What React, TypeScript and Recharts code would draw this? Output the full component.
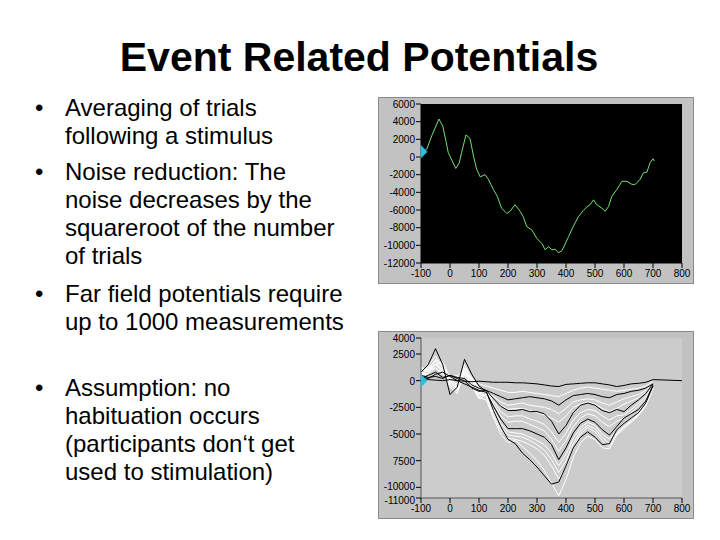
import { CartesianGrid, Line, LineChart, ReferenceDot, XAxis, YAxis } from 'recharts';

// top panel: single averaged trace (green)
const avgTimes = [-95, -80, -63, -38, -25, -14, -6, 20, 32, 40, 55, 69, 81, 92, 104, 121, 132, 150, 163, 178, 196, 207, 224, 242, 253, 265, 282, 299, 317, 328, 340, 351, 363, 374, 386, 397, 409, 426, 443, 460, 472, 483, 495, 506, 524, 535, 547, 558, 575, 593, 610, 627, 639, 656, 667, 679, 690, 700, 704];
const avgValues = [500, 900, 2400, 4300, 3500, 1800, 500, -1300, -650, 500, 2500, 2100, 100, -1400, -2250, -2000, -2500, -3700, -4450, -5800, -6400, -6150, -5400, -6150, -6800, -7900, -8250, -9200, -9800, -10500, -10150, -10500, -10450, -10850, -10600, -9850, -9000, -7800, -6750, -6050, -5650, -5400, -4850, -5400, -5800, -6150, -5600, -4450, -3700, -2750, -2750, -3100, -3100, -2500, -1800, -1700, -650, -200, -450];

const xTicks = [-100, 0, 100, 200, 300, 400, 500, 600, 700, 800];
const yTicksTop = [6000, 4000, 2000, 0, -2000, -4000, -6000, -8000, -10000, -12000];
const yTicksBottom = [4000, 2500, 0, -2500, -5000, -7500, -10000, -11000];

// bottom panel: running averages, sampled every 25 ms
const sweepTimes = [-100, -75, -50, -25, 0, 25, 50, 75, 100, 125, 150, 175, 200, 225, 250, 275, 300, 325, 350, 375, 400, 425, 450, 475, 500, 525, 550, 575, 600, 625, 650, 675, 700, 800];

const black1 = [300, 100, 50, 0, 100, 0, -50, -100, -50, -100, -150, -150, -150, -200, -200, -250, -300, -400, -500, -550, -350, -300, -250, -200, -200, -300, -400, -550, -450, -300, -250, -150, 100, 0];
const white1 = [800, 500, 1200, 700, 300, 500, 800, 200, -300, -500, -700, -900, -1100, -1100, -1000, -1100, -1200, -1300, -1400, -1500, -1200, -900, -700, -600, -700, -800, -900, -1000, -900, -800, -700, -500, -100];
const black2 = [500, 300, 400, 200, 500, 300, 200, -400, -700, -900, -1200, -1500, -1800, -1700, -1600, -1500, -1600, -1700, -1900, -2300, -1800, -1400, -1300, -1200, -1300, -1500, -1600, -1300, -1200, -1000, -900, -700, -300];
const white2 = [1000, 1200, 1800, 1000, 200, 300, 600, 0, -600, -1000, -1500, -2000, -2300, -2200, -2100, -2300, -2400, -2500, -2700, -3100, -2600, -2000, -1800, -1700, -1800, -2100, -2300, -2000, -1700, -1500, -1300, -900, -300];
const white3 = [700, 900, 2000, 1500, 0, -300, 1200, 300, -800, -1200, -1800, -2300, -2700, -2600, -2600, -2800, -3000, -3200, -3500, -3900, -3300, -2500, -2200, -2000, -2200, -2600, -2900, -2600, -2200, -1900, -1600, -1100, -400];
const black3 = [200, 500, 800, 300, 500, 200, 0, -700, -1000, -900, -1700, -2400, -2800, -2800, -2700, -2900, -2900, -3100, -3800, -5000, -4200, -3000, -2300, -2100, -2300, -2800, -3000, -2700, -2900, -2300, -1800, -1200, -300];
const white4 = [1200, 1000, 1500, 1800, 300, -500, 800, 0, -1200, -800, -1900, -2900, -3400, -3300, -3300, -3600, -3800, -4100, -4800, -5800, -4900, -3700, -3000, -2700, -2800, -3300, -3700, -3300, -3200, -2700, -2100, -1500, -500];
const white5 = [900, 1400, 2300, 1200, -200, -800, 1500, 200, -1300, -1000, -2200, -3300, -3900, -3800, -3800, -4100, -4400, -4700, -5500, -6600, -5600, -4300, -3500, -3100, -3300, -3900, -4300, -3800, -3500, -3000, -2400, -1700, -600];
const black4 = [400, 200, 600, 800, 400, 0, -300, -600, -900, -1100, -2400, -3600, -4500, -4500, -4500, -4700, -5000, -5300, -6000, -7400, -6300, -4900, -4000, -3600, -3900, -4600, -5100, -4300, -3500, -3100, -2700, -1900, -400];
const white6 = [1100, 800, 1600, 900, 0, -600, 1000, -300, -1500, -1200, -2700, -4000, -4800, -4900, -5000, -5300, -5600, -6000, -6800, -8000, -6900, -5400, -4400, -3900, -4200, -5000, -5500, -4600, -4000, -3500, -2900, -2000, -700];
const white7 = [600, 1100, 1900, 1300, -400, -1000, 500, -500, -1700, -1300, -3000, -4300, -5100, -5200, -5300, -5600, -6000, -6500, -7400, -8600, -7500, -5900, -4700, -4200, -4500, -5300, -5900, -4900, -4300, -3700, -3100, -2200, -600];
const white8 = [1300, 900, 1200, 600, -100, -700, 1200, 0, -1100, -1500, -3300, -4600, -5400, -5500, -5700, -6000, -6400, -7000, -8000, -9200, -8100, -6300, -5000, -4400, -4800, -5600, -6200, -5100, -4500, -3900, -3300, -2400, -800];
const black5 = [800, 1500, 3000, 1500, -1300, -600, 2000, 600, -500, -1000, -2800, -4300, -5500, -5900, -6800, -7400, -8100, -8900, -9700, -9500, -8000, -6300, -5300, -4800, -5300, -6000, -5900, -4600, -4000, -3500, -3000, -2100, -500];
const white9 = [500, 700, 1500, 800, -600, -1200, 800, -400, -1600, -1800, -3500, -5000, -5800, -5600, -6200, -6800, -7500, -8400, -9600, -10800, -9300, -7200, -5800, -5200, -5500, -6300, -6400, -5000, -4300, -3800, -3200, -2300, -700];

const sweeps = [
  { key: 'w9', color: '#ffffff', values: white9 },
  { key: 'w8', color: '#ffffff', values: white8 },
  { key: 'w7', color: '#ffffff', values: white7 },
  { key: 'w6', color: '#ffffff', values: white6 },
  { key: 'w5', color: '#ffffff', values: white5 },
  { key: 'w4', color: '#ffffff', values: white4 },
  { key: 'w3', color: '#ffffff', values: white3 },
  { key: 'w2', color: '#ffffff', values: white2 },
  { key: 'w1', color: '#ffffff', values: white1 },
  { key: 'b5', color: '#000000', values: black5 },
  { key: 'b4', color: '#000000', values: black4 },
  { key: 'b3', color: '#000000', values: black3 },
  { key: 'b2', color: '#000000', values: black2 },
  { key: 'b1', color: '#000000', values: black1 },
];

const avgData = avgTimes.map((t, i) => ({ t, v: avgValues[i] }));
const sweepData = sweepTimes.map((t, i) => {
  const row: Record<string, number | undefined> = { t };
  sweeps.forEach((s) => {
    row[s.key] = s.values[i];
  });
  return row;
});

const tickFont = { fill: '#000', fontSize: 10, fontFamily: 'Liberation Sans, Arial, sans-serif' };

const Marker = (props: any) => {
  const { cx, cy } = props;
  return (
    <polygon
      points={`${cx},${cy - 6} ${cx + 6},${cy} ${cx},${cy + 6}`}
      fill='#33bbdd'
      stroke='#33bbdd'
    />
  );
};

const BottomYTick = (props: any) => {
  const { x, y, payload } = props;
  const v = payload.value;
  const label = v === -7500 ? '7500' : String(v);
  const shift = v === -11000 ? 2 : v === -10000 ? -1 : 0;
  return (
    <text x={x} y={y + shift} dy={4} textAnchor='end' {...tickFont}>
      {label}
    </text>
  );
};

const panelStyle = (top: number): React.CSSProperties => ({
  position: 'absolute',
  left: 378,
  top,
  background: '#c2c2c2',
  border: '1px solid #8a8a8a',
});

export default function App() {
  return (
    <div
      style={{
        position: 'absolute',
        left: 0,
        top: 0,
        width: 720,
        height: 540,
        background: '#fff',
        overflow: 'hidden',
        fontFamily: 'Liberation Sans, Arial, sans-serif',
        color: '#000',
      }}
    >
      <div
        style={{
          position: 'absolute',
          left: 0,
          top: 34,
          width: 718,
          textAlign: 'center',
          fontSize: 41,
          fontWeight: 'bold',
          lineHeight: '46px',
        }}
      >
        Event Related Potentials
      </div>

      {[
        { top: 94, lines: ['Averaging of trials', 'following a stimulus'] },
        { top: 158, lines: ['Noise reduction: The', 'noise decreases by the', 'squareroot of the number', 'of trials'] },
        { top: 280, lines: ['Far field potentials require', 'up to 1000 measurements'] },
        { top: 374, lines: ['Assumption: no', 'habituation occurs', '(participants don‘t get', 'used to stimulation)'] },
      ].map((b) => (
        <div
          key={b.top}
          style={{ position: 'absolute', left: 0, top: b.top, fontSize: 24, lineHeight: '28px', whiteSpace: 'nowrap' }}
        >
          <span style={{ position: 'absolute', left: 35 }}>•</span>
          <div style={{ position: 'absolute', left: 65 }}>
            {b.lines.map((l) => (
              <div key={l}>{l}</div>
            ))}
          </div>
        </div>
      ))}

      <div style={panelStyle(97)}>
        <LineChart width={314} height={185} data={avgData} margin={{ top: 6, right: 11, bottom: 0, left: 0 }}>
          <CartesianGrid fill='#000' stroke='none' horizontal={false} vertical={false} />
          <XAxis
            dataKey='t'
            type='number'
            domain={[-100, 800]}
            ticks={xTicks}
            height={20}
            tick={tickFont}
            tickSize={5}
            tickMargin={2}
            axisLine={{ stroke: '#000' }}
            tickLine={{ stroke: '#000' }}
            interval={0}
          />
          <YAxis
            type='number'
            domain={[-12000, 6000]}
            ticks={yTicksTop}
            width={42}
            tick={tickFont}
            tickSize={5}
            tickMargin={1}
            axisLine={{ stroke: '#000' }}
            tickLine={{ stroke: '#000' }}
            interval={0}
          />
          <Line type='linear' dataKey='v' stroke='#72e072' strokeWidth={1} dot={false} isAnimationActive={false} />
          <ReferenceDot x={-100} y={600} r={6} shape={Marker} />
        </LineChart>
      </div>

      <div style={panelStyle(331)}>
        <LineChart width={314} height={186} data={sweepData} margin={{ top: 6, right: 11, bottom: 0, left: 0 }}>
          <CartesianGrid fill='#cccccc' stroke='none' horizontal={false} vertical={false} />
          <XAxis
            dataKey='t'
            type='number'
            domain={[-100, 800]}
            ticks={xTicks}
            height={20}
            tick={tickFont}
            tickSize={5}
            tickMargin={2}
            axisLine={{ stroke: '#555' }}
            tickLine={{ stroke: '#000' }}
            interval={0}
          />
          <YAxis
            type='number'
            domain={[-11000, 4000]}
            ticks={yTicksBottom}
            width={42}
            tick={BottomYTick}
            tickSize={5}
            tickMargin={1}
            axisLine={{ stroke: '#555' }}
            tickLine={{ stroke: '#000' }}
            interval={0}
          />
          {sweeps.map((s) => (
            <Line
              key={s.key}
              type='linear'
              dataKey={s.key}
              stroke={s.color}
              strokeWidth={1}
              dot={false}
              isAnimationActive={false}
            />
          ))}
          <ReferenceDot x={-100} y={0} r={6} shape={Marker} />
        </LineChart>
      </div>
    </div>
  );
}
